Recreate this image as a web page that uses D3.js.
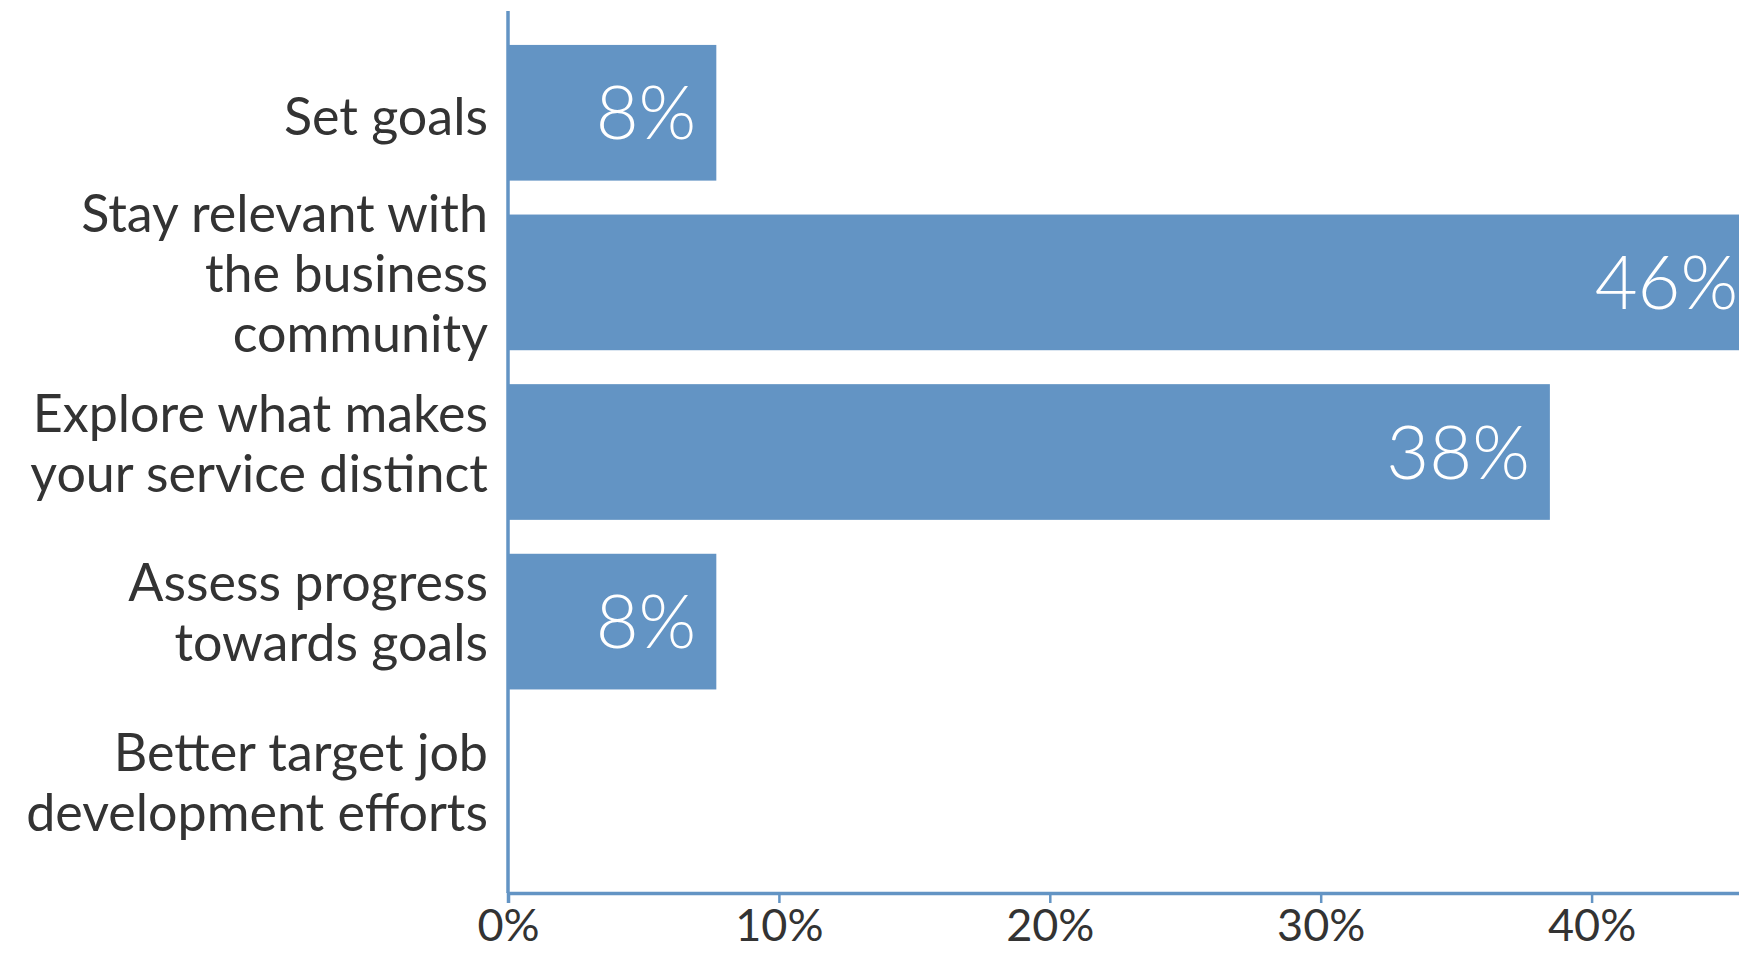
<!DOCTYPE html>
<html>
<head>
<meta charset="utf-8">
<script src="https://cdn.jsdelivr.net/npm/d3@7"></script>
<style>
  html, body { margin: 0; padding: 0; background: #fff; overflow: hidden; }
  svg { display: block; font-family: "Lato", "Noto Sans", sans-serif; }
</style>
</head>
<body>
<svg id="chart" width="1739" height="954"></svg>
<script>
// Category labels, split into the lines they are printed on
const categories = [
  ["Set goals"],
  ["Stay relevant with", "the business", "community"],
  ["Explore what makes", "your service distinct"],
  ["Assess progress", "towards goals"],
  ["Better target job", "development efforts"]
];
// Share of respondents (%), 13 responses
const values = [7.69, 46.15, 38.46, 7.69, 0];
const valueLabels = ["8%", "46%", "38%", "8%", ""];
const xTicks = [0, 10, 20, 30, 40];

const barColor = "#6394c4";
const textColor = "#333333";

const svg = d3.select("#chart");
const plotLeft = 508, plotTop = 11, plotBottom = 893;

// x scale runs past the right edge, the original picture is cropped there
const xScale = d3.scaleLinear().domain([0, 50]).range([plotLeft, plotLeft + 5 * 270.9]);
const yScale = d3.scaleBand()
  .domain(d3.range(categories.length))
  .range([plotTop, plotBottom])
  .paddingInner(0.2)
  .paddingOuter(0.2);

// Bars
svg.append("g")
  .selectAll("rect")
  .data(values)
  .join("rect")
  .attr("x", xScale(0))
  .attr("y", (d, i) => yScale(i))
  .attr("width", (d) => xScale(d) - xScale(0))
  .attr("height", yScale.bandwidth())
  .attr("fill", barColor);

// Value labels inside the bar ends
svg.append("g")
  .selectAll("text")
  .data(values)
  .join("text")
  .attr("x", (d) => xScale(d) - 20)
  .attr("y", (d, i) => yScale(i) + yScale.bandwidth() / 2)
  .attr("dy", "0.36em")
  .attr("text-anchor", "end")
  .attr("fill", "#fff")
  .attr("font-size", 74)
  .attr("font-weight", 300)
  .text((d, i) => valueLabels[i]);

// X axis
const xAxis = svg.append("g")
  .attr("transform", `translate(0,${plotBottom})`)
  .call(d3.axisBottom(xScale).tickValues(xTicks).tickSize(10).tickFormat((d) => d + "%"));
xAxis.select(".domain").attr("stroke", barColor).attr("stroke-width", 3.5);
xAxis.selectAll(".tick line").attr("stroke", barColor).attr("stroke-width", 2.5);
xAxis.selectAll(".tick text")
  .attr("fill", textColor)
  .attr("font-size", 45)
  .attr("font-family", "Lato, sans-serif")
  .attr("y", 16)
  .attr("dy", "0.71em");

// Y axis line
const yAxis = svg.append("g")
  .attr("transform", `translate(${plotLeft},0)`)
  .call(d3.axisLeft(yScale).tickSize(0).tickFormat(""));
yAxis.select(".domain").attr("stroke", barColor).attr("stroke-width", 3.5).attr("d", `M0,${plotTop}V${plotBottom}`);

// Category labels (multi-line, right aligned)
const lineH = 60;
const catLabels = svg.append("g")
  .selectAll("text")
  .data(categories)
  .join("text")
  .attr("text-anchor", "end")
  .attr("fill", textColor)
  .attr("font-size", 52)
  .attr("y", (d, i) => {
    const shift = d.length > 1 ? -9 : 4;
    return yScale(i) + yScale.bandwidth() / 2 - (d.length - 1) * lineH / 2 + shift;
  });

catLabels.selectAll("tspan")
  .data((d) => d)
  .join("tspan")
  .attr("x", plotLeft - 20)
  .attr("dy", (d, j) => j === 0 ? "0.36em" : lineH)
  .text((d) => d);
</script>
</body>
</html>
